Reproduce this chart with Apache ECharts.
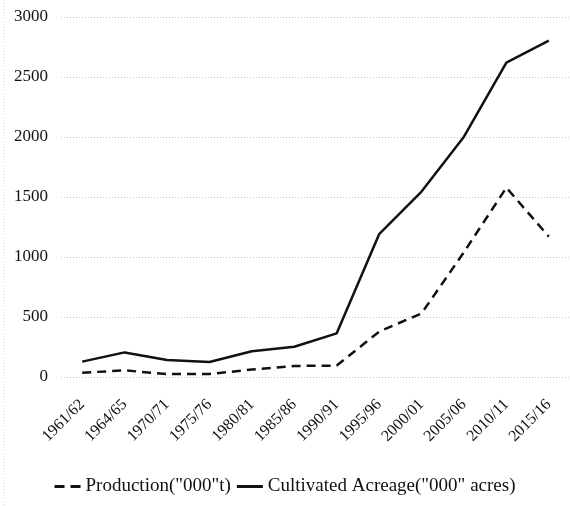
<!DOCTYPE html>
<html>
<head>
<meta charset="utf-8">
<script src="https://cdn.jsdelivr.net/npm/echarts@6/dist/echarts.min.js"></script>
<style>
  html, body { margin: 0; padding: 0; background: #ffffff; }
  #chart { width: 570px; height: 506px; }
</style>
</head>
<body>
<div id="chart"></div>
<script>
// 값은 그림에서 읽어낸 추정치
const seasons = ["1961/62", "1964/65", "1970/71", "1975/76", "1980/81", "1985/86",
  "1990/91", "1995/96", "2000/01", "2005/06", "2010/11", "2015/16"];
const production = [36, 55, 25, 25, 62, 92, 95, 378, 530, 1040, 1578, 1170];
const acreage = [128, 205, 142, 125, 215, 252, 364, 1190, 1545, 2003, 2620, 2803];
const yTicks = [0, 500, 1000, 1500, 2000, 2500, 3000];

const _FONT = '"Liberation Serif", "DejaVu Serif", serif';
const INK = "#111111";

// 범례 아이콘: 파선 / 실선
const DASH_ICON = "path://M0,0h10v3h-10z M16,0h10v3h-10z";
const SOLID_ICON = "path://M0,0h26v3h-26z";

const chart = echarts.init(document.getElementById("chart"), null, { renderer: "canvas" });
chart.setOption({
  backgroundColor: "#ffffff",
  animation: false,
  textStyle: { fontFamily: _FONT, color: INK },
  grid: { left: 61, right: -2, top: 17, bottom: 129, containLabel: false },
  graphic: [{
    type: "line",
    shape: { x1: 4, y1: 0, x2: 4, y2: 506 },
    style: { stroke: "#d0d0d0", lineWidth: 1, lineDash: [1, 2] }
  }],
  legend: {
    bottom: 5,
    left: "center",
    itemWidth: 26,
    itemHeight: 3,
    itemGap: 6,
    textStyle: { fontFamily: _FONT, fontSize: 19, color: INK },
    data: [
      { name: 'Production("000"t)', icon: DASH_ICON },
      { name: 'Cultivated Acreage("000" acres)', icon: SOLID_ICON }
    ]
  },
  xAxis: {
    type: "category",
    data: seasons,
    boundaryGap: true,
    axisLine: { show: false },
    axisTick: { show: false },
    axisLabel: {
      rotate: 45,
      interval: 0,
      margin: 25,
      fontFamily: _FONT,
      fontSize: 16,
      color: INK
    }
  },
  yAxis: {
    type: "value",
    min: yTicks[0],
    max: yTicks[yTicks.length - 1],
    interval: 500,
    axisLine: { show: false },
    axisTick: { show: false },
    axisLabel: {
      margin: 13,
      fontFamily: _FONT,
      fontSize: 17,
      color: INK,
      formatter: (v) => String(v)
    },
    splitLine: { lineStyle: { color: "#c8c8c8", type: [1, 2], width: 1 } }
  },
  series: [
    {
      name: 'Production("000"t)',
      type: "line",
      data: production,
      symbol: "none",
      lineStyle: { color: INK, width: 2.5, type: [9, 6] },
      itemStyle: { color: INK }
    },
    {
      name: 'Cultivated Acreage("000" acres)',
      type: "line",
      data: acreage,
      symbol: "none",
      lineStyle: { color: INK, width: 2.5, type: "solid" },
      itemStyle: { color: INK }
    }
  ]
});
</script>
</body>
</html>
